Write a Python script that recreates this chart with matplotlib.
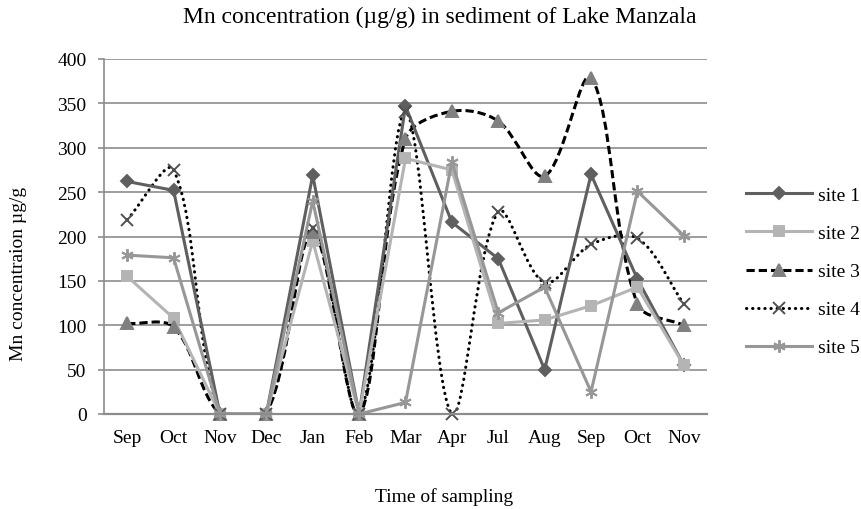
import numpy as np
import matplotlib
matplotlib.use("Agg")
import matplotlib.pyplot as plt
from matplotlib.path import Path
from matplotlib.patches import PathPatch
from matplotlib.lines import Line2D

plt.rcParams['font.family'] = ['Liberation Serif', 'DejaVu Serif']

months = ["Sep", "Oct", "Nov", "Dec", "Jan", "Feb", "Mar", "Apr", "Jul", "Aug", "Sep", "Oct", "Nov"]
site1 = [262, 252, 0, 0, 269, 0, 347, 216, 175, 50, 270, 152, 55]
site2 = [155, 108, 0, 0, 195, 0, 288, 275, 102, 106, 122, 143, 55]
site3 = [102, 98, 0, 0, 205, 0, 310, 341, 330, 268, 379, 124, 100]
site4 = [219, 275, 0, 0, 210, 0, 340, 0, 228, 148, 191, 198, 124]
site5 = [179, 176, 0, 0, 240, 0, 13, 284, 114, 143, 25, 251, 201]

# style per series: values, line color, marker, marker color, linestyle, smoothed
series = [
    ("site 1", site1, "#5f5f5f", "D", "#5f5f5f", "-", False, 6.5),
    ("site 2", site2, "#b4b4b4", "s", "#b4b4b4", "-", False, 7.5),
    ("site 3", site3, "black", "^", "#808080", (0, (2.7, 1.3)), True, 8),
    ("site 4", site4, "black", "x", "#505050", (0, (0.1, 1.9)), True, 8),
    ("site 5", site5, "#979797", (6, 2, 0), "#979797", "-", False, 9),
]

fig = plt.figure(figsize=(8.62, 5.1), dpi=100)
ax = fig.add_axes([104 / 862, 1 - 415 / 510, 603 / 862, 355 / 510])
x = np.arange(len(months))
ax.set_xlim(-0.5, len(months) - 0.5)
ax.set_ylim(0, 400)
ax.set_yticks(range(0, 401, 50))
ax.set_xticks(x)
ax.set_xticklabels(months)
ax.yaxis.grid(True, color="#8c8c8c", lw=1.2)
ax.set_axisbelow(True)
for s in ["top", "right"]:
    ax.spines[s].set_visible(False)
ax.spines["left"].set_color("#8c8c8c")
ax.spines["bottom"].set_color("#8c8c8c")
ax.spines["left"].set_linewidth(1.2)
ax.spines["bottom"].set_linewidth(1.6)
ax.tick_params(axis="y", length=4.5, color="#8c8c8c", width=1.2, pad=8, labelsize=14)
ax.tick_params(axis="x", length=0, pad=11, labelsize=14)


def smooth_patch(xs, ys, **kw):
    pts = ax.transData.transform(np.column_stack([xs, ys]))
    n = len(pts)
    verts = [pts[0]]
    codes = [Path.MOVETO]
    for i in range(n - 1):
        p0 = pts[i - 1] if i > 0 else pts[i]
        p1, p2 = pts[i], pts[i + 1]
        p3 = pts[i + 2] if i + 2 < n else pts[i + 1]
        d01 = np.hypot(*(p1 - p0))
        d12 = np.hypot(*(p2 - p1))
        d23 = np.hypot(*(p3 - p2))
        c1 = p1 + (p2 - p0) * d12 / (d01 + d12) / 3
        c2 = p2 - (p3 - p1) * d12 / (d12 + d23) / 3
        verts += [c1, c2, p2]
        codes += [Path.CURVE4] * 3
    verts = ax.transData.inverted().transform(np.array(verts))
    return PathPatch(Path(verts, codes), fill=False, transform=ax.transData, **kw)


handles = []
for label, vals, lc, mk, mc, ls, smooth, ms in series:
    if smooth:
        cap = "round" if ls[1][0] < 0.5 else "butt"
        ax.add_patch(smooth_patch(x, vals, edgecolor=lc, lw=2.2, linestyle=ls, capstyle=cap))
    else:
        ax.plot(x, vals, color=lc, lw=2.2, ls=ls)
    ax.plot(x, vals, ls="none", marker=mk, ms=ms, color=mc, mew=1.4, clip_on=False)
    handles.append(Line2D([], [], color=lc, lw=2.2, ls=ls, marker=mk, ms=ms,
                          mfc=mc, mec=mc, mew=1.4, dash_capstyle="round" if label == "site 4" else "butt"))

fig.legend(handles, [s[0] for s in series], loc="center left",
           bbox_to_anchor=(746 / 862, 1 - 272.5 / 510), frameon=False,
           fontsize=14, handlelength=3.4, handletextpad=0.3, labelspacing=1.05,
           borderpad=0, borderaxespad=0)

fig.text(440 / 862, 1 - 23 / 510, "Mn concentration (\u00b5g/g) in sediment of Lake Manzala",
         ha="center", va="baseline", fontsize=17)
fig.text(444 / 862, 1 - 502 / 510, "Time of sampling", ha="center", va="baseline", fontsize=14)
fig.text(19 / 862, 1 - 273.5 / 510, "Mn concentraion \u00b5g/g", rotation=90,
         ha="center", va="center", fontsize=14)

fig.savefig("out.png", dpi=100)
